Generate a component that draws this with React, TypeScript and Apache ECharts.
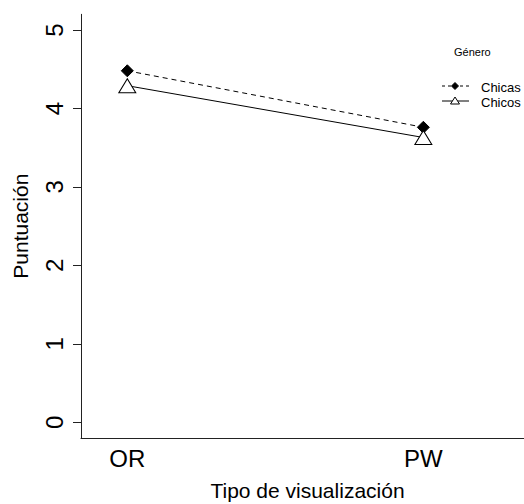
import React, { useEffect, useRef } from "react";
import * as echarts from "echarts";

const categories = ["OR", "PW"];
const chicas = [4.48, 3.76];
const chicos = [4.29, 3.63];
const yTicks = [0, 1, 2, 3, 4, 5];
const xPositions = [1, 2];
const legendNames = ["Chicas", "Chicos"];

const FONT = "'Liberation Sans', Arial, Helvetica, sans-serif";

export default function App() {
  const ref = useRef<HTMLDivElement>(null);
  useEffect(() => {
    if (!ref.current) return;
    const chart = echarts.init(ref.current, null, { renderer: "svg" });

    // legend drawn as graphic (R interaction.plot style)
    const lx0 = 442;
    const lx1 = 469;
    const lcx = 455;
    const ly = [86, 101];
    const tx = 481;
    const legendGraphics: any[] = [
      {
        type: "text",
        left: 454,
        top: 46,
        style: { text: "Género", fontSize: 11, fill: "#000", fontFamily: FONT },
      },
      {
        type: "line",
        shape: { x1: lx0, y1: ly[0], x2: lx1, y2: ly[0] },
        style: { stroke: "#000", lineWidth: 1, lineDash: [3, 3] },
      },
      {
        type: "polygon",
        shape: { points: [[lcx, ly[0] - 3.5], [lcx + 3.5, ly[0]], [lcx, ly[0] + 3.5], [lcx - 3.5, ly[0]]] },
        style: { fill: "#000", stroke: "#000" },
      },
      {
        type: "line",
        shape: { x1: lx0, y1: ly[1], x2: lx1, y2: ly[1] },
        style: { stroke: "#000", lineWidth: 1 },
      },
      {
        type: "polygon",
        shape: { points: [[lcx, ly[1] - 4], [lcx + 4.5, ly[1] + 3], [lcx - 4.5, ly[1] + 3]] },
        style: { fill: "#fff", stroke: "#000", lineWidth: 1 },
      },
      ...legendNames.map((n, i) => ({
        type: "text",
        left: tx,
        top: ly[i] - 5,
        style: {
          text: n,
          fontSize: 13,
          fill: "#000",
          fontFamily: FONT,
        },
      })),
    ];

    const option: any = {
      animation: false,
      backgroundColor: "#ffffff",
      textStyle: { fontFamily: FONT },
      grid: { left: 81, right: 0, top: 14.3, bottom: 66, outerBoundsMode: "none", containLabel: false },
      xAxis: {
        type: "value",
        min: 0.8436,
        max: 2.34,
        name: "Tipo de visualización",
        nameLocation: "middle",
        nameGap: 42,
        nameTextStyle: { fontSize: 21, color: "#000", fontFamily: FONT, padding: [0, 0, 0, 10] },
        axisLine: { show: true, onZero: false, lineStyle: { color: "#222", width: 1 } },
        axisTick: { show: false },
        splitLine: { show: false },
        axisLabel: {
          customValues: xPositions,
          formatter: (v: number) => categories[Math.round(v) - 1] ?? "",
          fontSize: 24,
          color: "#000",
          margin: 8,
          fontFamily: FONT,
        },
      },
      yAxis: {
        type: "value",
        min: -0.2,
        max: 5.2,
        name: "Puntuación",
        nameLocation: "middle",
        nameRotate: 90,
        nameGap: 50,
        nameTextStyle: { fontSize: 21, color: "#000", fontFamily: FONT },
        axisLine: { show: true, onZero: false, lineStyle: { color: "#222", width: 1 } },
        axisTick: {
          show: true,
          inside: false,
          customValues: yTicks,
          length: 8,
          lineStyle: { color: "#222" },
        },
        splitLine: { show: false },
        axisLabel: {
          customValues: yTicks,
          rotate: 90,
          fontSize: 24,
          color: "#000",
          margin: 15,
          fontFamily: FONT,
        },
      },
      graphic: legendGraphics,
      series: [
        {
          name: "Chicas",
          type: "line",
          data: xPositions.map((x, i) => [x, chicas[i]]),
          symbol: "diamond",
          symbolSize: 12,
          itemStyle: { color: "#000", borderColor: "#000" },
          lineStyle: { color: "#000", width: 1, type: [5, 4] },
          z: 2,
        },
        {
          name: "Chicos",
          type: "line",
          data: xPositions.map((x, i) => [x, chicos[i]]),
          symbol: "triangle",
          symbolSize: [17, 14],
          itemStyle: { color: "#fff", borderColor: "#000", borderWidth: 1 },
          lineStyle: { color: "#000", width: 1 },
          z: 3,
        },
      ],
    };
    chart.setOption(option);
    return () => chart.dispose();
  }, []);
  return (
    <div
      ref={ref}
      style={{ position: "fixed", left: 0, top: 0, width: 524, height: 504, background: "#fff" }}
    />
  );
}
